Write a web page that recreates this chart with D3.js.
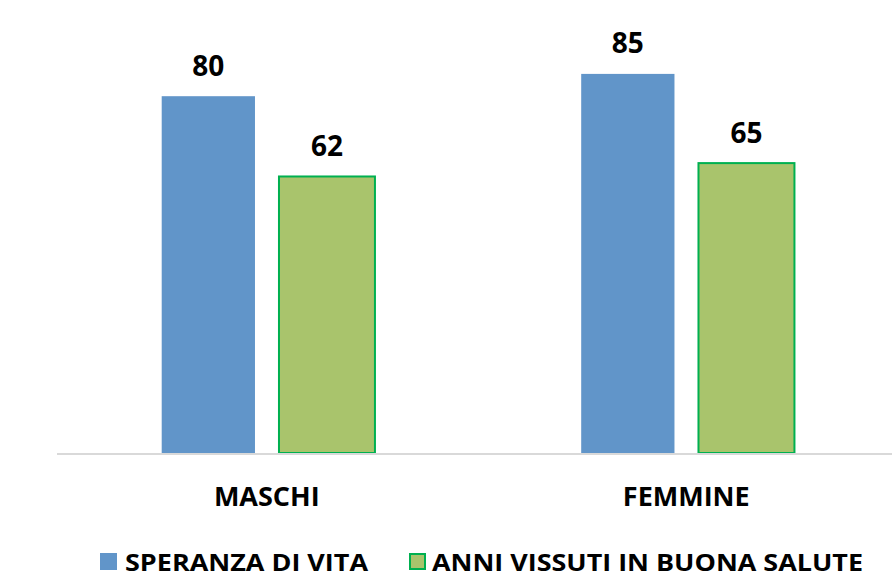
<!DOCTYPE html>
<html>
<head>
<meta charset="utf-8">
<script src="https://cdn.jsdelivr.net/npm/d3@7"></script>
<style>
  html, body { margin: 0; padding: 0; background: #fff; }
  svg { display: block; }
  text { font-family: "Open Sans", "Liberation Sans", sans-serif; font-weight: 700; fill: #000; }
</style>
</head>
<body>
<script>
const categories = ["MASCHI", "FEMMINE"];
const seriesNames = ["SPERANZA DI VITA", "ANNI VISSUTI IN BUONA SALUTE"];
const speranzaDiVita = [80, 85];
const anniBuonaSalute = [62, 65];

const W = 892, H = 581;
const fills = ["#6195c9", "#a9c46c"];
const strokes = [null, "#00b050"];

const svg = d3.select("body").append("svg").attr("width", W).attr("height", H);

const x = d3.scaleBand().domain(categories).range([57, 896]).padding(0);
const xs = d3.scaleBand().domain(seriesNames).range([103.35, 317.95]).paddingInner(0.191).paddingOuter(0);
const y = d3.scaleLinear().domain([0, 100]).range([453, 7]);

const data = [];
categories.forEach((c, i) => {
  data.push({ cat: c, s: 0, name: seriesNames[0], v: speranzaDiVita[i] });
  data.push({ cat: c, s: 1, name: seriesNames[1], v: anniBuonaSalute[i] });
});

const inset = d => (d.s === 0 ? 1.35 : 0);

// bars
svg.selectAll("rect.bar").data(data).enter().append("rect")
  .attr("class", "bar")
  .attr("x", d => x(d.cat) + xs(d.name) + inset(d))
  .attr("y", d => y(d.v))
  .attr("width", d => xs.bandwidth() - 2 * inset(d))
  .attr("height", d => y(0) - y(d.v))
  .attr("fill", d => fills[d.s])
  .attr("stroke", d => strokes[d.s] || "none")
  .attr("stroke-width", 2);

// axis line
const xAxis = d3.axisBottom(x).tickSize(0).tickPadding(30);
const gAxis = svg.append("g").attr("transform", `translate(0,${y(0) + 1})`).call(xAxis);
gAxis.select(".domain").attr("stroke", "#d9d9d9").attr("stroke-width", 2.2)
  .attr("d", "M57,0H892");
gAxis.selectAll(".tick text")
  .attr("font-size", 27).attr("font-family", "'Open Sans', sans-serif").attr("font-weight", 700)
  .attr("fill", "#000").attr("dy", null).attr("y", 51.5);

// value labels
svg.selectAll("text.val").data(data).enter().append("text")
  .attr("class", "val")
  .attr("x", d => x(d.cat) + xs(d.name) + xs.bandwidth() / 2)
  .attr("y", d => y(d.v) - 20.5)
  .attr("text-anchor", "middle")
  .attr("font-size", 28)
  .text(d => d.v);

// legend
const legendItems = [
  { name: seriesNames[0], sx: 100, tx: 125, tw: 243 },
  { name: seriesNames[1], sx: 409, tx: 432, tw: 431 }
];
const lg = svg.append("g");
legendItems.forEach((it, i) => {
  lg.append("rect")
    .attr("x", it.sx + (i === 1 ? 1 : 0)).attr("y", 553 + (i === 1 ? 1 : 0))
    .attr("width", 17 - (i === 1 ? 2 : 0)).attr("height", 17 - (i === 1 ? 2 : 0))
    .attr("fill", fills[i])
    .attr("stroke", strokes[i] || "none").attr("stroke-width", 2);
  lg.append("text")
    .attr("x", it.tx).attr("y", 571)
    .attr("font-size", 23.5)
    .attr("textLength", it.tw).attr("lengthAdjust", "spacingAndGlyphs")
    .text(it.name);
});
</script>
</body>
</html>
